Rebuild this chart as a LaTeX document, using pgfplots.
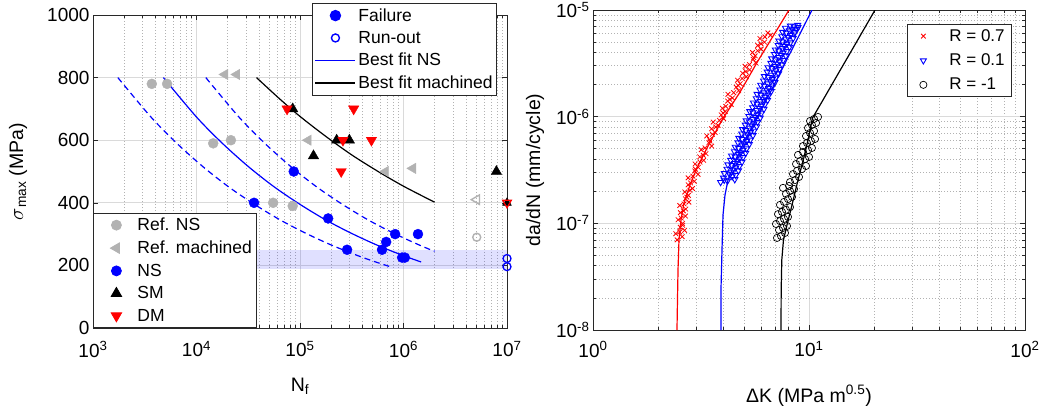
\documentclass[border=0pt]{standalone}
\usepackage{fontspec}
\setmainfont{Liberation Sans}
\usepackage{pgfplots}
\pgfplotsset{compat=1.18}

\definecolor{refgray}{RGB}{178,178,178}
\definecolor{axgray}{RGB}{40,40,40}
\definecolor{gridgray}{RGB}{218,218,218}
\definecolor{mblue}{RGB}{0,0,255}
\definecolor{mred}{RGB}{255,0,0}

\pgfplotsset{
  matlab/.style={
    scale only axis,
    clip mode=individual,
    axis line style={axgray, line width=0.8pt},
    tick style={axgray, line width=0.6pt},
    tick align=inside,
    major tick length=5pt,
    minor tick length=3pt,
    major grid style={gridgray, line width=0.7pt},
    minor grid style={gray!60, line width=0.6pt, dash pattern=on 1pt off 2pt},
    /pgf/number format/assume math mode=true,
    /pgf/number format/1000 sep={},
    ticklabel style={font=\fontsize{19}{21}\selectfont},
    label style={font=\fontsize{19.5}{22}\selectfont},
    legend cell align=left,
    legend style={font=\fontsize{17.5}{20}\selectfont, draw=axgray, line width=0.8pt,
      fill=white, inner xsep=2pt, inner ysep=3pt, row sep=4.5pt,
      nodes={inner sep=2pt, text depth=0.15em}},
  },
}

\begin{document}
\begin{tikzpicture}
\path[use as bounding box] (0pt,0pt) rectangle (1049pt,405pt);

% ---------------- left: S-N ----------------
\begin{axis}[matlab,
  at={(93pt,77pt)}, anchor=south west, width=414pt, height=313pt,
  xmode=log, xmin=1e3, xmax=1e7, ymin=0, ymax=1000,
  xtick={1e3,1e4,1e5,1e6,1e7},
  xticklabels={10\textsuperscript{3},10\textsuperscript{4},10\textsuperscript{5},10\textsuperscript{6},10\textsuperscript{7}},
  minor xtick={2000,3000,4000,5000,6000,7000,8000,9000,
    20000,30000,40000,50000,60000,70000,80000,90000,
    200000,300000,400000,500000,600000,700000,800000,900000,
    2000000,3000000,4000000,5000000,6000000,7000000,8000000,9000000},
  ytick={0,200,400,600,800,1000},
  xmajorgrids, xminorgrids, ymajorgrids,
  xticklabel style={yshift=-10pt},
  xlabel={N\textsubscript{f}},
  ylabel={$\sigma$\textsubscript{max} (MPa)},
  xlabel style={at={(axis description cs:0.5,-0.16)}, anchor=north, inner sep=0pt},
  ylabel style={at={(axis description cs:-0.181,0.5)}, anchor=center},
  legend style={at={(0,0)}, anchor=south west, row sep=4.8pt, inner xsep=3pt},
  legend image code/.code={\path[draw=none,fill=none] (0pt,-5pt) rectangle (39pt,5pt);
    \draw[#1] plot coordinates {(20pt,0pt)};},
]
% band
\addplot[draw=none, fill=mblue, fill opacity=0.12, forget plot]
  coordinates {(1e3,190) (1e7,190) (1e7,248) (1e3,248)} -- cycle;
% fits
\addplot[mblue, line width=1.2pt, smooth, forget plot] coordinates {
  (4786,800) (10000,674) (17783,590) (31623,516) (56234,451) (100000,395)
  (177828,345) (316228,302) (562341,264) (1000000,231) (1479108,211)};
\addplot[mblue, line width=1.2pt, smooth, dash pattern=on 6pt off 4pt, forget plot] coordinates {
  (1738,800) (3631,674) (6457,590) (11482,516) (20417,451) (36308,395)
  (64565,345) (114815,302) (204174,264) (363078,231) (537032,211) (758578,195)};
\addplot[mblue, line width=1.2pt, smooth, dash pattern=on 6pt off 4pt, forget plot] coordinates {
  (12303,800) (25704,674) (45709,590) (81283,516) (144544,451) (257040,395)
  (457088,345) (812831,302) (1445440,264) (1995262,245)};
\addplot[black, line width=1.2pt, smooth, forget plot] coordinates {
  (38019,800) (63096,733) (100000,676) (177828,612) (316228,553)
  (562341,501) (1000000,453) (1995262,402)};
% data
\addplot[only marks, mark=*, mark size=5pt, color=refgray] coordinates {
  (3700,780) (5200,780) (14500,590) (21500,600) (55000,400) (85000,390)};
\addlegendentry{Ref. NS}
\addplot[only marks, mark=triangle*, mark size=6pt, color=refgray, mark options={rotate=90}] coordinates {
  (18800,810) (24500,810) (120000,600) (670000,500) (1230000,510)};
\addlegendentry{Ref. machined}
\addplot[only marks, mark=*, mark size=5pt, color=mblue] coordinates {
  (36000,400) (87000,500) (187000,350) (285000,250) (620000,250) (680000,275)
  (830000,300) (1380000,300) (970000,225) (1030000,225)};
\addlegendentry{NS}
\addplot[only marks, mark=triangle*, mark size=6pt, color=black] coordinates {
  (85000,700) (135000,550) (226000,600) (300000,600) (7900000,500)};
\addlegendentry{SM}
\addplot[only marks, mark=triangle*, mark size=6pt, color=mred, mark options={rotate=180}] coordinates {
  (75000,700) (330000,700) (260000,600) (490000,600) (250000,500)};
\addlegendentry{DM}
% run-outs
\addplot[only marks, mark=o, mark size=4pt, color=refgray, line width=1.4pt, forget plot]
  coordinates {(5100000,290)};
\addplot[only marks, mark=triangle, mark size=5.5pt, color=refgray, line width=1.4pt,
  mark options={rotate=90}, forget plot] coordinates {(5100000,410)};
\addplot[only marks, mark=o, mark size=4pt, color=mblue, line width=1.3pt, forget plot]
  coordinates {(1e7,222) (1e7,196)};
\addplot[only marks, mark=triangle*, mark size=5pt, color=black, forget plot]
  coordinates {(1e7,400)};
\addplot[only marks, mark=triangle, mark size=5pt, color=mred, line width=1.2pt,
  mark options={rotate=180, fill=white}, forget plot] coordinates {(1e7,400)};
\end{axis}

% legend for failure / run-out / fits
\begin{axis}[matlab,
  at={(93pt,77pt)}, anchor=south west, width=414pt, height=313pt,
  hide axis, xmode=log, xmin=1e3, xmax=1e7, ymin=0, ymax=1000,
  legend style={at={(0.976,1.038)}, anchor=north east, row sep=4.5pt},
  legend image code/.code={\path[draw=none,fill=none] (0pt,-5pt) rectangle (42pt,5pt);
    \draw[mark repeat=2,mark phase=2,#1,line width=1.4pt] plot coordinates {(1pt,0pt) (21pt,0pt) (41pt,0pt)};},
]
\addplot[draw=none, forget plot] coordinates {(1e4,500)};
\addlegendimage{only marks, mark=*, mblue, mark size=5pt}
\addlegendentry{Failure}
\addlegendimage{only marks, mark=o, mblue, mark size=4pt}
\addlegendentry{Run-out}
\addlegendimage{mblue}
\addlegendentry{Best fit NS}
\addlegendimage{black}
\addlegendentry{Best fit machined}
\end{axis}

% ---------------- right: da/dN ----------------
\begin{axis}[matlab,
  at={(593pt,75pt)}, anchor=south west, width=432pt, height=320pt,
  xmode=log, ymode=log, xmin=1, xmax=100, ymin=1e-8, ymax=1e-5,
  xtick={1,10,100},
  xticklabels={10\textsuperscript{0},10\textsuperscript{1},10\textsuperscript{2}},
  ytick={1e-8,1e-7,1e-6,1e-5},
  yticklabels={10\textsuperscript{-8},10\textsuperscript{-7},10\textsuperscript{-6},10\textsuperscript{-5}},
  minor xtick={2,3,4,5,6,7,8,9,20,30,40,50,60,70,80,90},
  minor ytick={2e-8,3e-8,4e-8,5e-8,6e-8,7e-8,8e-8,9e-8,
    2e-7,3e-7,4e-7,5e-7,6e-7,7e-7,8e-7,9e-7,
    2e-6,3e-6,4e-6,5e-6,6e-6,7e-6,8e-6,9e-6},
  grid=both,
  xticklabel style={yshift=-8pt},
  xlabel={ΔK (MPa m\textsuperscript{0.5})},
  ylabel={da/dN (mm/cycle)},
  xlabel style={at={(axis description cs:0.5,-0.172)}, anchor=north, inner sep=0pt},
  ylabel style={at={(axis description cs:-0.134,0.5)}, anchor=center},
  legend style={at={(0.970,0.956)}, anchor=north east, inner xsep=5pt, row sep=7pt,
    font=\fontsize{17}{20}\selectfont},
  legend image code/.code={\path[draw=none,fill=none] (0pt,-5pt) rectangle (35pt,5pt);
    \draw[#1] plot coordinates {(11pt,0pt)};},
]
\addplot[only marks, mark=x, mark size=3.3pt, color=mred, line width=0.8pt] coordinates {
  (2.450,7.0e-8) (2.586,7.5e-8) (2.416,8.0e-8) (2.654,8.6e-8) (2.535,9.2e-8)
  (2.597,1.0e-7) (2.478,1.08e-7) (2.678,1.17e-7) (2.538,1.26e-7) (2.687,1.36e-7)
  (2.520,1.47e-7) (2.779,1.58e-7) (2.678,1.70e-7) (2.765,1.83e-7) (2.661,1.97e-7)
  (2.889,2.12e-7) (2.758,2.30e-7) (2.944,2.48e-7) (2.756,2.67e-7) (3.064,2.88e-7)
  (2.961,3.10e-7) (3.071,3.35e-7) (2.971,3.60e-7) (3.252,3.90e-7) (3.119,4.20e-7)
  (3.335,4.50e-7) (3.172,4.90e-7) (3.543,5.30e-7) (3.439,5.70e-7) (3.464,6.10e-7)
  (3.363,6.60e-7) (3.678,7.10e-7) (3.539,7.70e-7) (3.796,8.30e-7) (3.601,8.90e-7)
  (4.024,9.60e-7) (3.923,1.04e-6) (4.092,1.12e-6) (3.972,1.20e-6) (4.366,1.30e-6)
  (4.204,1.40e-6) (4.421,1.50e-6) (4.214,1.62e-6) (4.723,1.75e-6) (4.602,1.89e-6)
  (4.802,2.04e-6) (4.669,2.20e-6) (5.123,2.37e-6) (4.933,2.55e-6) (5.306,2.75e-6)
  (5.058,2.97e-6) (5.662,3.20e-6) (5.514,3.45e-6) (5.632,3.72e-6) (5.475,4.00e-6)
  (6.004,4.30e-6) (5.790,4.65e-6) (6.220,5.00e-6) (5.929,5.40e-6) (6.631,5.80e-6)
  (6.450,6.10e-6)
  (2.52,8.3e-8) (2.60,9.6e-8) (2.56,1.12e-7) (2.62,1.31e-7) (2.64,1.52e-7)
  (2.72,1.76e-7) (2.81,2.04e-7) (2.83,2.39e-7) (2.90,2.77e-7) (2.98,3.22e-7)
  (3.13,3.75e-7) (3.24,4.35e-7) (3.30,5.1e-7) (3.48,5.9e-7) (3.57,6.85e-7)
  (3.70,8.0e-7) (3.85,9.25e-7) (4.00,1.08e-6) (4.12,1.25e-6) (4.30,1.45e-6)
  (4.48,1.68e-6) (4.70,1.96e-6) (4.90,2.28e-6) (5.10,2.65e-6) (5.30,3.08e-6)
  (5.55,3.58e-6) (5.78,4.15e-6) (6.00,4.82e-6) (6.25,5.6e-6)};
\addlegendentry{R = 0.7}
\addplot[only marks, mark=triangle, mark size=3.5pt, color=mblue, line width=0.9pt,
  mark options={rotate=180}] coordinates {
  (3.897,2.43e-7) (4.194,2.50e-7) (4.533,2.58e-7)
  (4.018,2.67e-7) (4.406,2.75e-7) (4.579,2.83e-7)
  (4.054,2.94e-7) (4.362,3.03e-7) (4.714,3.12e-7)
  (4.176,3.23e-7) (4.580,3.33e-7) (4.759,3.43e-7)
  (4.212,3.55e-7) (4.532,3.66e-7) (4.898,3.77e-7)
  (4.342,3.91e-7) (4.762,4.03e-7) (4.949,4.15e-7)
  (4.379,4.30e-7) (4.712,4.43e-7) (5.093,4.56e-7)
  (4.513,4.72e-7) (4.950,4.87e-7) (5.144,5.02e-7)
  (4.553,5.20e-7) (4.900,5.36e-7) (5.295,5.52e-7)
  (4.692,5.71e-7) (5.146,5.89e-7) (5.348,6.07e-7)
  (4.732,6.29e-7) (5.093,6.48e-7) (5.504,6.67e-7)
  (4.878,6.92e-7) (5.350,7.13e-7) (5.560,7.34e-7)
  (4.922,7.61e-7) (5.297,7.85e-7) (5.725,8.09e-7)
  (5.071,8.37e-7) (5.562,8.63e-7) (5.780,8.89e-7)
  (5.116,9.21e-7) (5.505,9.49e-7) (5.950,9.77e-7)
  (5.268,1.01e-6) (5.778,1.04e-6) (6.005,1.07e-6)
  (5.320,1.12e-6) (5.725,1.15e-6) (6.188,1.18e-6)
  (5.480,1.22e-6) (6.010,1.26e-6) (6.246,1.30e-6)
  (5.529,1.35e-6) (5.950,1.39e-6) (6.431,1.43e-6)
  (5.700,1.48e-6) (6.252,1.53e-6) (6.497,1.58e-6)
  (5.747,1.63e-6) (6.185,1.68e-6) (6.684,1.73e-6)
  (5.926,1.79e-6) (6.499,1.85e-6) (6.754,1.91e-6)
  (5.980,1.98e-6) (6.435,2.04e-6) (6.955,2.10e-6)
  (6.161,2.17e-6) (6.758,2.24e-6) (7.023,2.31e-6)
  (6.213,2.39e-6) (6.685,2.46e-6) (7.226,2.53e-6)
  (6.406,2.63e-6) (7.026,2.71e-6) (7.301,2.79e-6)
  (6.461,2.89e-6) (6.953,2.98e-6) (7.515,3.07e-6)
  (6.660,3.18e-6) (7.304,3.28e-6) (7.591,3.38e-6)
  (6.719,3.50e-6) (7.230,3.61e-6) (7.814,3.72e-6)
  (6.925,3.85e-6) (7.595,3.97e-6) (7.893,4.09e-6)
  (6.986,4.24e-6) (7.517,4.37e-6) (8.125,4.50e-6)
  (7.201,4.67e-6) (7.898,4.81e-6) (8.208,4.95e-6)
  (7.263,5.13e-6) (7.816,5.29e-6) (8.448,5.45e-6)
  (7.487,5.65e-6) (8.212,5.82e-6) (8.534,5.99e-6)
  (7.551,6.21e-6) (8.126,6.40e-6) (8.783,6.59e-6)
  (7.775,6.79e-6) (8.527,7.00e-6) (8.862,7.21e-6)
  (8.90,6.9e-6) (8.20,7.1e-6) (8.60,6.2e-6)
  (4.05,2.55e-7) (4.30,2.86e-7) (4.45,3.18e-7) (4.40,3.50e-7) (4.65,3.85e-7)
  (4.55,4.22e-7) (4.82,4.62e-7) (4.72,5.08e-7) (5.00,5.60e-7) (4.90,6.15e-7)
  (5.20,6.78e-7) (5.10,7.45e-7) (5.45,8.20e-7) (5.30,9.00e-7) (5.65,9.90e-7)
  (5.50,1.09e-6) (5.90,1.20e-6) (5.75,1.32e-6) (6.15,1.45e-6) (6.00,1.60e-6)
  (6.40,1.76e-6) (6.22,1.94e-6) (6.65,2.13e-6) (6.50,2.34e-6) (6.90,2.58e-6)
  (6.75,2.84e-6) (7.15,3.12e-6) (7.00,3.43e-6) (7.45,3.78e-6) (7.25,4.16e-6)
  (7.70,4.58e-6) (7.55,5.04e-6) (8.00,5.55e-6) (7.85,6.10e-6) (8.35,6.65e-6)};
\addlegendentry{R = 0.1}
\addplot[only marks, mark=o, mark size=3.6pt, color=black, line width=0.7pt] coordinates {
  (7.110,7.30e-8) (7.419,7.62e-8) (7.743,8.13e-8) (7.262,8.67e-8) (7.579,9.06e-8)
  (7.910,9.45e-8) (7.034,9.87e-8) (7.340,1.05e-7) (7.661,1.10e-7) (7.995,1.15e-7)
  (7.186,1.22e-7) (7.499,1.28e-7) (7.826,1.34e-7) (8.166,1.42e-7) (7.340,1.49e-7)
  (7.661,1.59e-7) (7.995,1.69e-7) (8.344,1.77e-7) (7.826,1.89e-7) (8.166,2.01e-7)
  (8.524,2.10e-7) (7.579,2.15e-7) (8.081,2.24e-7)
  (8.166,2.44e-7) (8.615,2.55e-7) (8.990,2.72e-7) (8.433,2.90e-7) (8.799,3.10e-7)
  (9.282,3.23e-7) (9.685,3.45e-7) (8.708,3.60e-7) (9.085,3.84e-7) (9.583,4.01e-7)
  (10.00,4.19e-7) (8.895,4.38e-7) (9.380,4.67e-7) (9.895,4.87e-7) (10.32,5.09e-7)
  (9.380,5.31e-7) (9.788,5.67e-7) (10.21,5.92e-7) (10.66,6.18e-7) (9.685,6.59e-7)
  (10.11,7.04e-7) (10.55,7.35e-7) (9.895,7.84e-7) (10.32,8.36e-7) (10.78,8.73e-7)
  (10.11,9.12e-7) (10.55,9.52e-7) (11.01,9.94e-7)};
\addlegendentry{R = -1}
% fitted curves
\addplot[mred, line width=1.2pt, forget plot] coordinates {
  (2.448,1.0e-8) (2.461,1.915e-8) (2.475,3.66e-8) (2.501,6.99e-8) (2.555,1.076e-7)
  (2.638,1.553e-7) (2.812,2.29e-7) (3.031,3.31e-7) (3.372,5.09e-7) (3.956,9.31e-7)
  (4.793,1.70e-6) (5.765,3.26e-6) (8.08,1.0e-5)};
\addplot[mblue, line width=1.2pt, forget plot] coordinates {
  (3.913,1.0e-8) (3.913,2.38e-8) (3.956,5.63e-8) (3.999,1.199e-7) (4.085,1.85e-7)
  (4.217,2.55e-7) (4.496,3.53e-7) (5.055,6.05e-7) (5.745,9.72e-7) (6.706,1.78e-6)
  (7.967,3.55e-6) (9.268,6.50e-6) (10.325,1.0e-5)};
\addplot[black, line width=1.2pt, forget plot] coordinates {
  (7.419,1.0e-8) (7.435,2.38e-8) (7.483,4.54e-8) (7.619,6.99e-8) (7.910,9.66e-8)
  (8.344,1.487e-7) (8.895,2.55e-7) (9.482,4.19e-7) (9.895,6.05e-7) (10.38,9.72e-7)
  (11.60,1.43e-6) (13.13,2.21e-6) (16.80,5.23e-6) (20.21,1.0e-5)};
\end{axis}
\end{tikzpicture}
\end{document}
